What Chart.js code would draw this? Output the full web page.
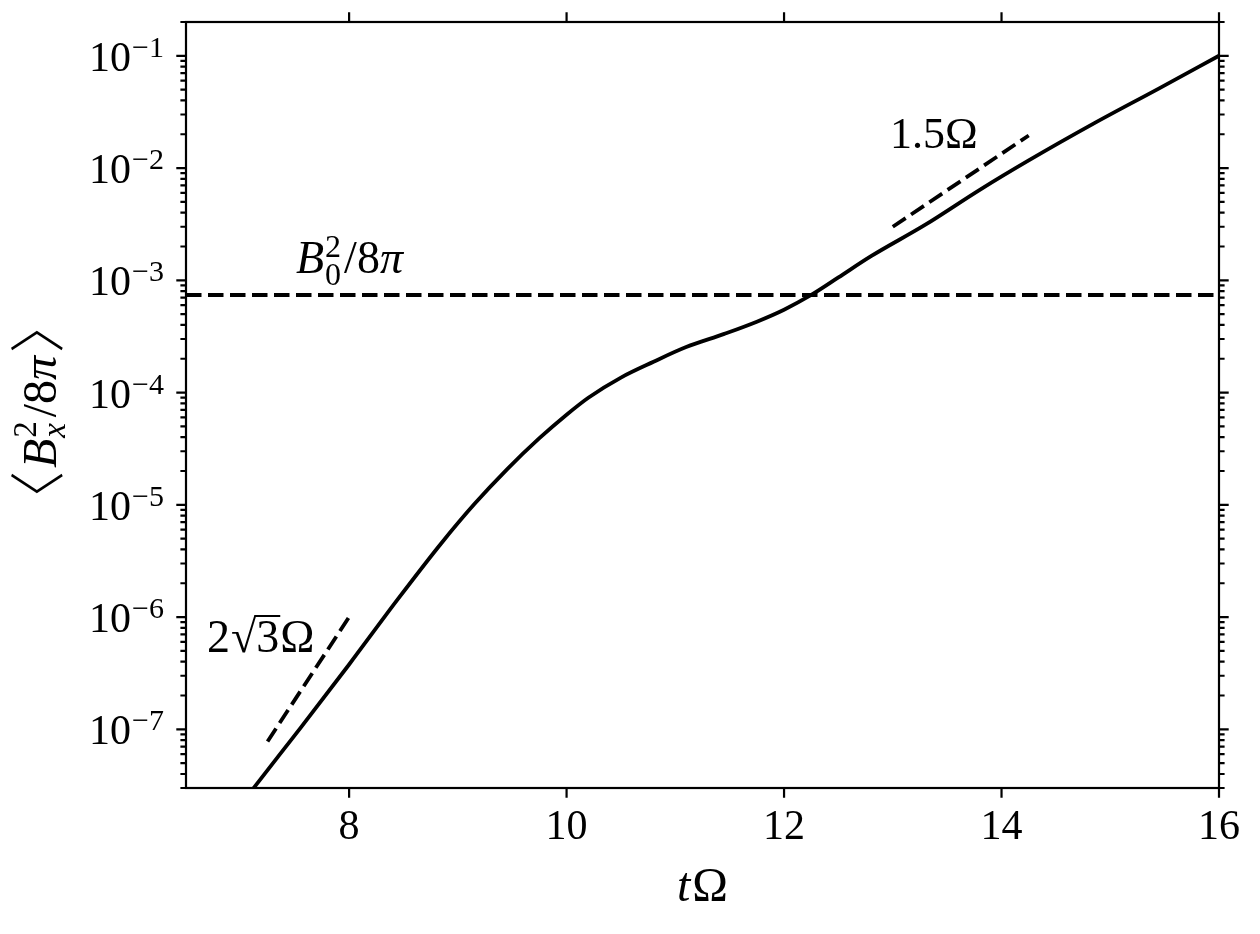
<!DOCTYPE html>
<html><head><meta charset="utf-8">
<script src="https://cdn.jsdelivr.net/npm/chart.js@4.4.1/dist/chart.umd.min.js"></script>
<style>html,body{margin:0;padding:0;background:#fff}#wrap{width:1260px;height:934px;position:relative}</style>
</head><body><div id="wrap"><canvas id="c" width="1260" height="934"></canvas></div>
<script>
// ---- data ----
const tValues  = [7.0, 7.15, 7.55, 8.0, 8.45, 8.85, 9.15, 9.45, 9.75, 10.0, 10.2, 10.5, 10.8, 11.1, 11.45, 11.75, 12.0, 12.25, 12.5, 12.8, 13.3, 13.8, 14.25, 14.85, 15.45, 16.0];
const bxValues = [2.1e-8, 3.25e-8, 1.02e-7, 3.78e-7, 1.45e-6, 4.57e-6, 1.01e-5, 2.06e-5, 3.92e-5, 6.35e-5, 9.0e-5, 1.36e-4, 1.88e-4, 2.54e-4, 3.33e-4, 4.28e-4, 5.47e-4, 7.4e-4, 1.06e-3, 1.64e-3, 3.13e-3, 6.4e-3, 1.17e-2, 2.5e-2, 5.13e-2, 0.1];
const b0Level = 7.4e-4;
const guideFastT = [7.25, 8.0];
const guideFastV = [7.8e-8, 1.0e-6];
const guideSlowT = [13.0, 14.25];
const guideSlowV = [3.0e-3, 1.95e-2];
const xRange = [6.5, 16];
const yRange = [3e-8, 0.2];
const xTickValues = [8, 10, 12, 14, 16];
const xTickLabels = ['8', '10', '12', '14', '16'];
const yDecades = [-7, -6, -5, -4, -3, -2, -1];

const FAM = '"Liberation Serif", "DejaVu Serif", serif';
const pts = (xs, ys) => xs.map((x, i) => ({x: x, y: ys[i]}));

function font(size, italic, fam, weight) { return (italic ? 'italic ' : '') + (weight ? weight + ' ' : '') + size + 'px ' + (fam || FAM); }
function segWidth(ctx, seg) {
  if (seg.stack) return Math.max(...seg.stack.map(s => segWidth(ctx, s))) + (seg.gap || 0);
  ctx.font = font(seg.s, seg.i, seg.f, seg.w);
  return ctx.measureText(seg.t).width + (seg.gap || 0) + (seg.pre || 0);
}
function drawRich(ctx, segs, x, y, align) {
  const total = segs.reduce((a, s) => a + segWidth(ctx, s), 0);
  let cx = align === 'center' ? x - total / 2 : (align === 'right' ? x - total : x);
  ctx.textAlign = 'left';
  ctx.textBaseline = 'alphabetic';
  for (const seg of segs) {
    const w = segWidth(ctx, seg);
    const list = seg.stack ? seg.stack : [seg];
    for (const s of list) {
      ctx.font = font(s.s, s.i, s.f, s.w);
      ctx.fillText(s.t, cx + (s.dx || 0) + (s.pre || 0), y + (s.dy || 0));
    }
    cx += w;
  }
}

const decor = {
  id: 'decor',
  afterDatasetsDraw(chart) {
    const ctx = chart.ctx, a = chart.chartArea;
    const xs = chart.scales.x, ys = chart.scales.y;
    ctx.save();
    ctx.strokeStyle = '#000'; ctx.fillStyle = '#000';
    ctx.lineWidth = 2.2; ctx.lineCap = 'butt';
    // frame
    ctx.strokeRect(a.left, a.top, a.right - a.left, a.bottom - a.top);
    const MAJ = 9.7, MIN = 5.6;
    ctx.beginPath();
    for (const v of xTickValues) {
      const px = xs.getPixelForValue(v);
      ctx.moveTo(px, a.bottom); ctx.lineTo(px, a.bottom + MAJ);
      ctx.moveTo(px, a.top); ctx.lineTo(px, a.top - MAJ);
    }
    for (let d = -9; d <= 0; d++) {
      for (let m = 1; m <= 9; m++) {
        const v = m * Math.pow(10, d);
        if (v < yRange[0] * 0.999 || v > yRange[1] * 1.001) continue;
        const py = ys.getPixelForValue(v);
        const L = m === 1 ? MAJ : MIN;
        ctx.moveTo(a.left, py); ctx.lineTo(a.left - L, py);
        ctx.moveTo(a.right, py); ctx.lineTo(a.right + L, py);
      }
    }
    ctx.stroke();
    // x tick labels
    ctx.textAlign = 'center'; ctx.textBaseline = 'alphabetic';
    ctx.font = font(42, false);
    xTickValues.forEach((v, i) => ctx.fillText(xTickLabels[i], xs.getPixelForValue(v), 839));
    // y tick labels 10^n
    for (const d of yDecades) {
      const py = ys.getPixelForValue(Math.pow(10, d));
      const sup = '\u2212' + Math.abs(d);
      ctx.font = font(30, false); const wS = ctx.measureText(sup).width;
      ctx.font = font(42, false); const w10 = ctx.measureText('10').width;
      const x0 = 164 - wS - w10 - 1;
      ctx.textAlign = 'left';
      ctx.fillText('10', x0, py + 15);
      ctx.font = font(30, false);
      ctx.fillText(sup, x0 + w10 + 1, py + 1);
    }
    // x axis title
    drawRich(ctx, [{t: 't', s: 48, i: true, gap: 2}, {t: '\u03A9', s: 48}], (a.left + a.right) / 2, 901, 'center');
    // y axis title (rotated)
    ctx.save();
    ctx.translate(56, 412);
    ctx.rotate(-Math.PI / 2);
    const BR = '"Noto Sans CJK SC", "DejaVu Sans", sans-serif';
    drawRich(ctx, [
      {t: '\u3008', s: 56, f: BR, w: 300, dy: 2, gap: 3},
      {t: 'B', s: 48, i: true, gap: 1},
      {stack: [{t: '2', s: 33, dy: -20}, {t: 'x', s: 33, i: true, dy: 9}], gap: 4},
      {t: '/8', s: 48},
      {t: '\u03C0', s: 48, i: true, gap: 3},
      {t: '\u3009', s: 56, f: BR, w: 300, dy: 2}
    ], 0, 0, 'center');
    ctx.restore();
    // annotations
    drawRich(ctx, [
      {t: 'B', s: 46, i: true, gap: 1},
      {stack: [{t: '2', s: 32, dy: -16}, {t: '0', s: 32, dy: 12}], gap: 3},
      {t: '/8', s: 46},
      {t: '\u03C0', s: 46, i: true}
    ], 296, 273, 'left');
    ctx.font = font(44, false); ctx.textAlign = 'left';
    ctx.fillText('1.5\u03A9', 890, 148);
    // 2√3Ω
    let x = 207; const base = 652;
    ctx.font = font(46, false);
    ctx.fillText('2', x, base); x += ctx.measureText('2').width + 1;
    const mr = ctx.measureText('\u221A');
    ctx.fillText('\u221A', x, base);
    const topY = base - mr.actualBoundingBoxAscent + 1;
    x += mr.width;
    const w3 = ctx.measureText('3').width;
    ctx.fillText('3', x, base);
    ctx.lineWidth = 2; ctx.beginPath();
    ctx.moveTo(x - 2, topY); ctx.lineTo(x + w3 + 1, topY); ctx.stroke();
    x += w3 + 1;
    ctx.fillText('\u03A9', x, base);
    ctx.restore();
  }
};

new Chart(document.getElementById('c'), {
  type: 'scatter',
  data: {
    datasets: [
      {data: pts(tValues, bxValues), showLine: true, borderColor: '#000', borderWidth: 3.8, pointRadius: 0, cubicInterpolationMode: 'monotone'},
      {data: pts(xRange, [b0Level, b0Level]), showLine: true, borderColor: '#000', borderWidth: 3.8, pointRadius: 0, borderDash: [15.5, 6.5]},
      {data: pts(guideFastT, guideFastV), showLine: true, borderColor: '#000', borderWidth: 3.8, pointRadius: 0, borderDash: [15.5, 6.5]},
      {data: pts(guideSlowT, guideSlowV), showLine: true, borderColor: '#000', borderWidth: 3.8, pointRadius: 0, borderDash: [15.5, 6.5]}
    ]
  },
  options: {
    responsive: false, animation: false, devicePixelRatio: 1,
    layout: {padding: {left: 186, right: 41, top: 22, bottom: 146}},
    scales: {
      x: {type: 'linear', display: false, min: xRange[0], max: xRange[1]},
      y: {type: 'logarithmic', display: false, min: yRange[0], max: yRange[1], bounds: 'data'}
    },
    plugins: {legend: {display: false}, tooltip: {enabled: false}}
  },
  plugins: [decor]
});
</script></body></html>
